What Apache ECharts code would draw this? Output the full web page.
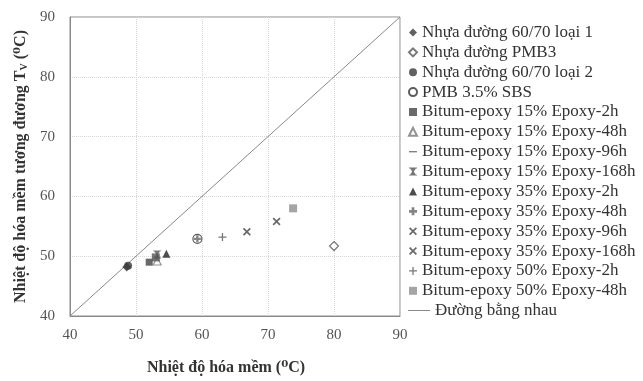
<!DOCTYPE html>
<html>
<head>
<meta charset="utf-8">
<script src="https://cdn.jsdelivr.net/npm/echarts@6/dist/echarts.min.js"></script>
<style>
html,body{margin:0;padding:0;background:#fff;}
#chart{width:643px;height:381px;}
</style>
</head>
<body>
<div id="chart"></div>
<script>
// Softening temperature (x) vs. equivalent softening temperature T_V (y), °C
const seriesNames = [
  'Nhựa đường 60/70 loại 1',
  'Nhựa đường PMB3',
  'Nhựa đường 60/70 loại 2',
  'PMB 3.5% SBS',
  'Bitum-epoxy 15% Epoxy-2h',
  'Bitum-epoxy 15% Epoxy-48h',
  'Bitum-epoxy 15% Epoxy-96h',
  'Bitum-epoxy 15% Epoxy-168h',
  'Bitum-epoxy 35% Epoxy-2h',
  'Bitum-epoxy 35% Epoxy-48h',
  'Bitum-epoxy 35% Epoxy-96h',
  'Bitum-epoxy 35% Epoxy-168h',
  'Bitum-epoxy 50% Epoxy-2h',
  'Bitum-epoxy 50% Epoxy-48h'
];
const softeningPoint = [48.6, 80.0, 48.8, 59.3, 52.0, 53.2, 53.0, 53.2, 54.6, 59.3, 66.8, 71.3, 63.1, 73.8];
const equivalentTv   = [48.2, 51.7, 48.4, 52.9, 49.0, 49.2, 49.8, 50.3, 50.4, 52.9, 54.1, 55.8, 53.2, 58.0];
const equalityLineName = 'Đường bằng nhau';
const equalityLine = [[40, 40], [90, 90]];
const axisTicks = [40, 50, 60, 70, 80, 90];

const dark = '#3a3a3a';
const crossPath = 'path://M0,1.5L1.5,0L5,3.5L8.5,0L10,1.5L6.5,5L10,8.5L8.5,10L5,6.5L1.5,10L0,8.5L3.5,5Z';
const starCrossPath = 'path://M0,0H10V1.2H8.6L6,5L8.6,8.8H10V10H0V8.8H1.4L4,5L1.4,1.2H0Z';
const plusPath = 'path://M4.2,0H5.8V4.2H10V5.8H5.8V10H4.2V5.8H0V4.2H4.2Z';
const thickPlusPath = 'path://M3.3,0H6.7V3.3H10V6.7H6.7V10H3.3V6.7H0V3.3H3.3Z';
const dashPath = 'path://M0,4.2H10V5.8H0Z';

const styles = [
  {symbol: 'diamond', size: 9, color: dark},
  {symbol: 'diamond', size: 9, color: '#fff', border: '#555'},
  {symbol: 'circle', size: 8, color: dark},
  {symbol: 'circle', size: 9, color: '#fff', border: '#333'},
  {symbol: 'rect', size: 7, color: '#444'},
  {symbol: 'triangle', size: 8, color: '#fff', border: '#777'},
  {symbol: dashPath, size: 8, color: '#555'},
  {symbol: starCrossPath, size: 8, color: '#555'},
  {symbol: 'triangle', size: 8, color: '#222'},
  {symbol: thickPlusPath, size: 7, color: '#666'},
  {symbol: crossPath, size: 8, color: '#444'},
  {symbol: crossPath, size: 8, color: '#444'},
  {symbol: plusPath, size: 8, color: '#555'},
  {symbol: 'rect', size: 8, color: '#8f8f8f'}
];

const series = seriesNames.map((name, i) => ({
  name: name,
  type: 'scatter',
  symbol: styles[i].symbol,
  symbolSize: styles[i].size,
  itemStyle: {
    color: styles[i].color,
    borderColor: styles[i].border || styles[i].color,
    borderWidth: styles[i].border ? 1.2 : 0
  },
  data: [[softeningPoint[i], equivalentTv[i]]],
  z: 3
}));

series.push({
  name: equalityLineName,
  type: 'line',
  data: equalityLine,
  symbol: 'none',
  lineStyle: {color: '#888', width: 1},
  itemStyle: {color: '#888'},
  z: 2
});

const serif = '"Liberation Serif", "DejaVu Serif", serif';
const tickMin = axisTicks[0], tickMax = axisTicks[axisTicks.length - 1];
const tickStep = axisTicks[1] - axisTicks[0];

const axisCommon = {
  type: 'value',
  min: tickMin,
  max: tickMax,
  interval: tickStep,
  axisLine: {show: true, lineStyle: {color: '#8a8a8a', width: 1}},
  axisTick: {show: false},
  axisLabel: {color: '#555', fontFamily: serif, fontSize: 15},
  splitLine: {show: true, lineStyle: {color: '#d6d6d6', type: 'dotted', width: 1}}
};

const legendText = {fontFamily: serif, fontSize: 17, color: '#333', lineHeight: 16};

const chart = echarts.init(document.getElementById('chart'));
chart.setOption({
  backgroundColor: '#fff',
  animation: false,
  grid: {left: 70, right: 243, top: 17, bottom: 61, show: true, borderColor: '#8a8a8a', borderWidth: 1},
  xAxis: Object.assign({}, axisCommon, {
    axisLabel: Object.assign({}, axisCommon.axisLabel, {margin: 12}),
    name: 'Nhiệt độ hóa mềm (⁰C)',
    nameLocation: 'middle',
    nameGap: 44,
    nameTextStyle: {fontFamily: serif, fontWeight: 'bold', fontSize: 16, color: '#333', padding: [0, 18, 0, 0]}
  }),
  yAxis: Object.assign({}, axisCommon, {
    axisLabel: Object.assign({}, axisCommon.axisLabel, {margin: 15}),
    name: '{t|Nhiệt độ hóa mềm tương đương T}{s|V}{t| (⁰C)}',
    nameLocation: 'middle',
    nameGap: 40,
    nameTextStyle: {
      fontFamily: serif, fontWeight: 'bold', fontSize: 16, color: '#333',
      rich: {
        t: {fontFamily: serif, fontWeight: 'bold', fontSize: 16, color: '#333'},
        s: {fontFamily: serif, fontWeight: 'bold', fontSize: 10, color: '#333', verticalAlign: 'bottom', padding: [7, 0, 0, 0]}
      }
    }
  }),
  legend: [
    {
      data: seriesNames,
      orient: 'vertical',
      left: 403,
      top: 19,
      itemWidth: 8,
      itemHeight: 8,
      itemGap: 2.87,
      textStyle: legendText
    },
    {
      data: [{name: equalityLineName, icon: 'rect'}],
      orient: 'vertical',
      left: 403,
      top: 297,
      itemWidth: 22,
      itemHeight: 1,
      itemStyle: {color: '#888'},
      textStyle: legendText
    }
  ],
  series: series
});
</script>
</body>
</html>
